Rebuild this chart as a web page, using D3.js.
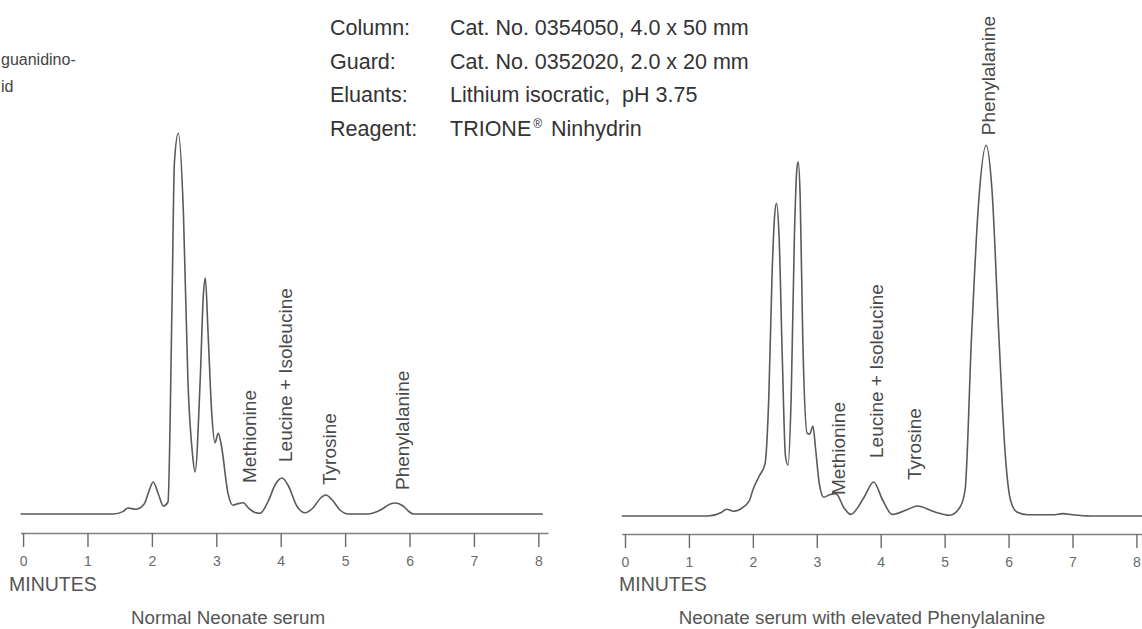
<!DOCTYPE html>
<html>
<head>
<meta charset="utf-8">
<script src="https://cdn.jsdelivr.net/npm/d3@7"></script>
<style>
  html, body { margin: 0; padding: 0; background: #fff; }
  svg { display: block; }
</style>
</head>
<body>
<svg id="chart" width="1142" height="629"></svg>
<script>
// ---------- data ----------
const minuteTicks = [0, 1, 2, 3, 4, 5, 6, 7, 8];

// Normal neonate serum trace: [minutes, detector response]
const normalTrace = [
  [-0.04, 0], [1.4, 0], [1.55, 0.6], [1.63, 1.5], [1.75, 1.2], [1.88, 2.5], [1.95, 5.5],
  [2.02, 8], [2.1, 5], [2.18, 2], [2.25, 3], [2.31, 50], [2.35, 88], [2.41, 95.2],
  [2.49, 75], [2.56, 33], [2.63, 15], [2.67, 10.5], [2.75, 33.5], [2.8, 55], [2.83, 59],
  [2.87, 46], [2.93, 25], [2.98, 17.8], [3.03, 20.2], [3.08, 17], [3.18, 5.3], [3.26, 2.2],
  [3.34, 2.6], [3.42, 2.8], [3.5, 1.5], [3.6, 0.4], [3.68, 0.2], [3.8, 3], [3.92, 7.5],
  [4.02, 9], [4.12, 7], [4.25, 2], [4.38, 0.3], [4.5, 1.5], [4.62, 4], [4.7, 4.75],
  [4.8, 3.5], [4.92, 1], [5.05, 0], [5.35, 0], [5.55, 1], [5.7, 2.5], [5.78, 2.75],
  [5.9, 2], [6.0, 0.5], [6.06, 0], [8.07, 0]
];

// Neonate serum with elevated Phenylalanine trace
const elevatedTrace = [
  [-0.05, 0], [1.3, 0], [1.5, 0.8], [1.59, 1.7], [1.7, 1.2], [1.85, 2.2], [1.95, 4],
  [2.0, 6.5], [2.1, 10], [2.19, 13], [2.25, 30], [2.3, 60], [2.34, 75], [2.37, 78.2],
  [2.41, 70], [2.46, 40], [2.51, 15], [2.55, 12.7], [2.6, 30], [2.65, 70], [2.69, 87],
  [2.71, 88.5], [2.74, 80], [2.78, 45], [2.85, 20.7], [2.89, 20.5], [2.94, 22.5],
  [2.98, 17], [3.04, 8], [3.11, 4.7], [3.2, 5.3], [3.3, 5.6], [3.42, 2.2], [3.53, 0.4],
  [3.74, 4.7], [3.89, 8.5], [4.03, 4], [4.18, 0.4], [4.43, 1.7], [4.57, 2.5], [4.85, 1],
  [5.08, 0.2], [5.24, 2.2], [5.32, 6.5], [5.42, 44.5], [5.53, 78], [5.65, 92.7],
  [5.74, 81.7], [5.85, 44.5], [5.95, 15], [6.03, 4], [6.13, 1], [6.3, 0.3], [6.7, 0.3],
  [6.85, 0.6], [7.0, 0.3], [7.3, 0], [8.1, 0]
];

// Peak labels: name, minutes, response level where the label starts
const peakNames = ["Methionine", "Leucine + Isoleucine", "Tyrosine", "Phenylalanine"];
const normalLabelTime = [3.52, 4.07, 4.75, 5.89];
const normalLabelLevel = [7.75, 13, 7.25, 6];
const elevatedLabelTime = [3.34, 3.93, 4.53, 5.68];
const elevatedLabelLevel = [5.25, 14.5, 9, 95.2];

const chartTitles = ["Normal Neonate serum", "Neonate serum with elevated Phenylalanine"];
const axisTitle = "MINUTES";

const conditionLabels = ["Column:", "Guard:", "Eluants:", "Reagent:"];
const conditionValues = ["Cat. No. 0354050, 4.0 x 50 mm", "Cat. No. 0352020, 2.0 x 20 mm",
                         "Lithium isocratic,  pH 3.75"];
const reagentName = ["TRIONE", "\u00AE", "Ninhydrin"];
const sideNote = ["guanidino-", "id"];

// ---------- drawing ----------
const svg = d3.select("#chart");
svg.append("rect").attr("width", 1142).attr("height", 629).attr("fill", "#fff");

const lineColor = "#5a5a5a";
const textGray = "#4a4a4a";

function drawPanel(cfg) {
  const x = d3.scaleLinear().domain(cfg.xDomain).range(cfg.xRange);
  const y = d3.scaleLinear().domain([0, 100]).range([cfg.baseY, cfg.baseY - 400]);
  const g = svg.append("g");

  const line = d3.line()
    .x(d => x(d[0]))
    .y(d => y(d[1]))
    .curve(d3.curveMonotoneX);

  g.append("path")
    .datum(cfg.trace)
    .attr("d", line)
    .attr("fill", "none")
    .attr("stroke", lineColor)
    .attr("stroke-width", 1.6)
    .attr("stroke-linejoin", "round");

  const axis = d3.axisBottom(x)
    .tickValues(minuteTicks)
    .tickFormat(d3.format("d"))
    .tickSizeInner(14)
    .tickSizeOuter(0)
    .tickPadding(9);

  const ax = g.append("g")
    .attr("transform", `translate(0,${cfg.axisY})`)
    .call(axis);
  ax.select(".domain").attr("stroke", "#808080").attr("stroke-width", 1.6);
  ax.selectAll(".tick line").attr("stroke", "#6a6a6a").attr("stroke-width", 1.4);
  ax.selectAll(".tick text")
    .attr("fill", "#6a6a6a")
    .style("font-family", "'Liberation Sans Narrow', 'Liberation Sans', Arial, sans-serif")
    .style("font-size", "14px");

  g.append("text")
    .attr("x", cfg.minutesX)
    .attr("y", 591)
    .attr("fill", "#555")
    .style("font-family", "'Liberation Sans', Arial, sans-serif")
    .style("font-size", "19.5px")
    .text(axisTitle);

  g.append("text")
    .attr("x", cfg.titleX)
    .attr("y", 624)
    .attr("text-anchor", "middle")
    .attr("fill", "#555")
    .style("font-family", "'Liberation Sans', Arial, sans-serif")
    .style("font-size", "18.8px")
    .text(cfg.title);

  peakNames.forEach((name, i) => {
    const px = x(cfg.labelTime[i]);
    const py = y(cfg.labelLevel[i]);
    g.append("text")
      .attr("transform", `translate(${px},${py}) rotate(-90)`)
      .attr("dy", "0.35em")
      .attr("fill", textGray)
      .style("font-family", "'Liberation Sans', Arial, sans-serif")
      .style("font-size", "19px")
      .text(name);
  });
}

drawPanel({
  trace: normalTrace,
  xDomain: [-0.04, 8.15], xRange: [20.5, 548],
  baseY: 514, axisY: 533,
  labelTime: normalLabelTime, labelLevel: normalLabelLevel,
  minutesX: 9, titleX: 228, title: chartTitles[0]
});

drawPanel({
  trace: elevatedTrace,
  xDomain: [-0.05, 8.15], xRange: [621.8, 1146],
  baseY: 516, axisY: 534,
  labelTime: elevatedLabelTime, labelLevel: elevatedLabelLevel,
  minutesX: 619, titleX: 862, title: chartTitles[1]
});

// Conditions block
const headFont = "'Liberation Sans', Arial, sans-serif";
const headColor = "#333";
const rowY = [35, 68.5, 102, 135.5];
conditionLabels.forEach((lab, i) => {
  svg.append("text")
    .attr("x", 330).attr("y", rowY[i])
    .attr("fill", headColor)
    .style("font-family", headFont).style("font-size", "21.5px")
    .text(lab);
});
conditionValues.forEach((val, i) => {
  svg.append("text")
    .attr("x", 450).attr("y", rowY[i])
    .attr("fill", headColor)
    .style("font-family", headFont).style("font-size", "21.5px")
    .style("white-space", "pre")
    .attr("xml:space", "preserve")
    .text(val);
});
const reagent = svg.append("text")
  .attr("x", 450).attr("y", rowY[3])
  .attr("fill", headColor)
  .style("font-family", headFont).style("font-size", "21.5px");
reagent.append("tspan").text(reagentName[0]);
reagent.append("tspan").attr("dx", 2).attr("dy", -8).style("font-size", "12px").text(reagentName[1]);
reagent.append("tspan").attr("x", 551).attr("dy", 8).text(reagentName[2]);

// Side note at the left edge
svg.append("text")
  .attr("x", 1).attr("y", 65)
  .attr("fill", "#444")
  .style("font-family", headFont).style("font-size", "16px")
  .text(sideNote[0]);
svg.append("text")
  .attr("x", 1).attr("y", 92)
  .attr("fill", "#444")
  .style("font-family", headFont).style("font-size", "16px")
  .text(sideNote[1]);
</script>
</body>
</html>
